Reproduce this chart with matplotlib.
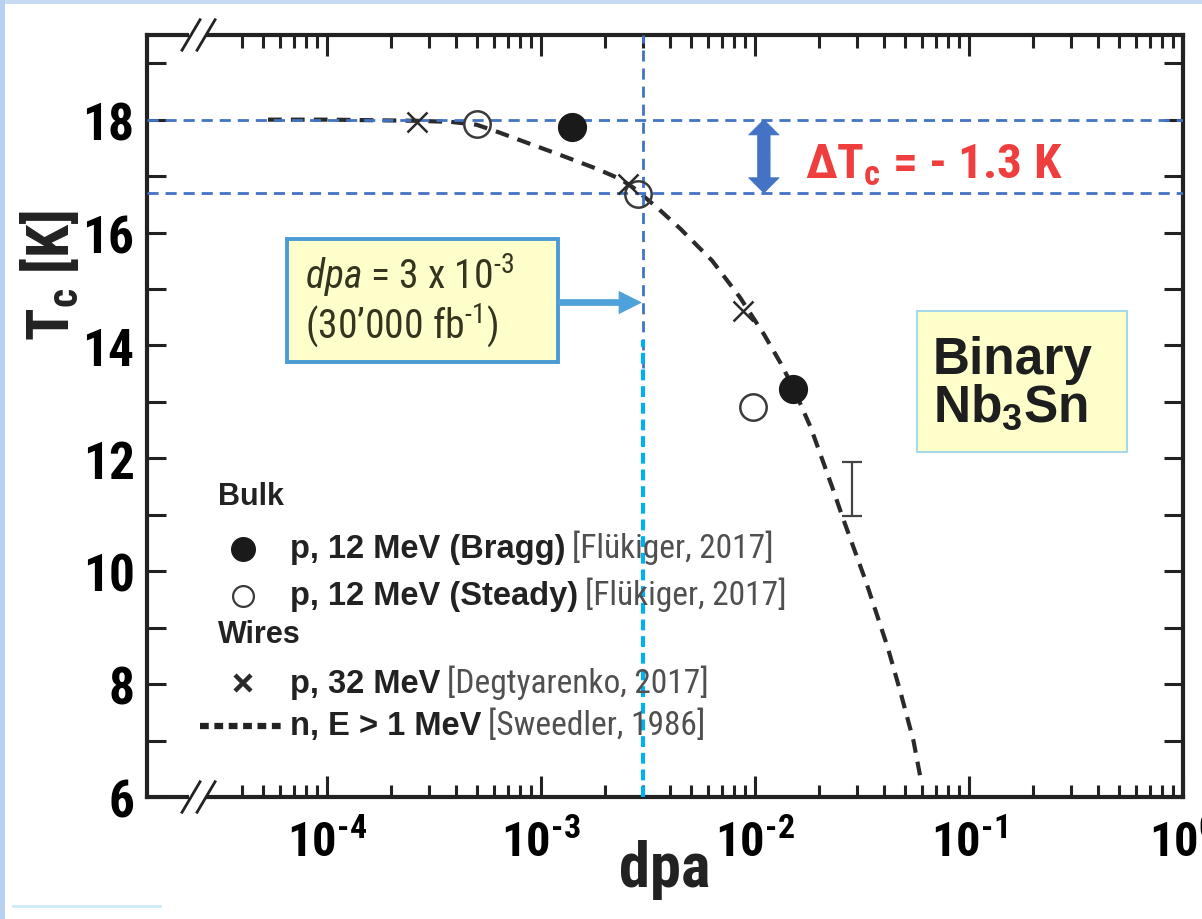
import matplotlib
matplotlib.use('Agg')
import matplotlib.pyplot as plt
from matplotlib.patches import Rectangle, FancyArrowPatch
from matplotlib.lines import Line2D
from matplotlib.ticker import FixedLocator, NullFormatter

# Tc of binary Nb3Sn against displacements per atom
bragg_dpa = [1.40e-3, 1.51e-2]
bragg_tc = [17.87, 13.23]
steady_dpa = [5.0e-4, 2.85e-3, 9.8e-3]
steady_tc = [17.93, 16.68, 12.91]
wire_dpa = [2.64e-4, 2.55e-3, 8.8e-3]
wire_tc = [17.96, 16.86, 14.61]
neutron_dpa = [5.3e-5, 1.0e-4, 2.6e-4, 3.8e-4, 5.0e-4, 6.3e-4, 8.9e-4, 1.26e-3,
               1.82e-3, 2.34e-3, 2.69e-3, 3.47e-3, 4.47e-3, 6.31e-3, 8.51e-3,
               1.10e-2, 1.32e-2, 1.51e-2, 1.82e-2, 2.29e-2, 2.57e-2, 3.31e-2,
               4.17e-2, 4.79e-2, 5.5e-2, 5.96e-2]
neutron_tc = [18.0, 18.0, 17.98, 17.96, 17.91, 17.78, 17.57, 17.36,
              17.13, 16.95, 16.80, 16.45, 16.07, 15.5, 14.85,
              14.2, 13.68, 13.25, 12.55, 11.5, 10.95, 9.8,
              8.65, 7.85, 7.0, 6.3]
err_dpa = 2.84e-2
err_lo, err_hi = 10.98, 11.93

tc_ref = 18.0
tc_irr = 16.7
dpa_hl = 3e-3          # 30'000 fb-1
delta_dpa = 1.1e-2     # where the delta Tc arrow sits
note_tc = 14.76        # height of the arrow from the dpa note

x_ticks = [1e-4, 1e-3, 1e-2, 1e-1, 1e0]
x_tick_labels = [r'$\mathsf{10^{‐4}}$', r'$\mathsf{10^{‐3}}$', r'$\mathsf{10^{‐2}}$',
                 r'$\mathsf{10^{‐1}}$', r'$\mathsf{10^{0}}$']
y_ticks = [6, 8, 10, 12, 14, 16, 18]
y_minor = [7, 9, 11, 13, 15, 17, 19]
x_lo, y_lo, y_hi = 10 ** -4.841, 6, 19.5

legend_rows = [
    ('p, 12 MeV (Bragg)', '[Flükiger, 2017]'),
    ('p, 12 MeV (Steady)', '[Flükiger, 2017]'),
    ('p, 32 MeV', '[Degtyarenko, 2017]'),
    ('n, E > 1 MeV', '[Sweedler, 1986]'),
]

sans = 'Liberation Sans'
narrow = ['Roboto Condensed', 'DejaVu Sans']
plt.rcParams['font.family'] = [sans, 'DejaVu Sans']
plt.rcParams['mathtext.fontset'] = 'custom'
plt.rcParams['mathtext.rm'] = 'Roboto Condensed'
plt.rcParams['mathtext.it'] = 'Roboto Condensed:italic'
plt.rcParams['mathtext.bf'] = sans + ':bold'
plt.rcParams['mathtext.sf'] = 'Roboto Condensed:bold'

blue = '#4472c4'
ink = '#222222'

fig = plt.figure(figsize=(12.02, 9.2), dpi=100)
# slide edges
fig.add_artist(Rectangle((0, 0.9946), 1, 0.0054, transform=fig.transFigure, color='#c6dbf3', lw=0))
fig.add_artist(Rectangle((0, 0), 0.0042, 1, transform=fig.transFigure, color='#b9cff0', lw=0))
fig.add_artist(Line2D([0.011, 0.133], [0.0141, 0.0141], transform=fig.transFigure,
                      color='#cdeaf8', lw=2))

ax = fig.add_axes([0.1223, 0.1326, 0.8619, 0.8283])
ax.set_xscale('log')
ax.set_xlim(x_lo, 1)
ax.set_ylim(y_lo, y_hi)
for s in ax.spines.values():
    s.set_linewidth(3)
    s.set_color(ink)

ax.xaxis.set_major_locator(FixedLocator(x_ticks))
minor = [m * 10.0 ** e for e in range(-5, 0) for m in range(2, 10) if m * 10.0 ** e >= 4e-5]
ax.xaxis.set_minor_locator(FixedLocator(minor))
ax.xaxis.set_minor_formatter(NullFormatter())
ax.set_xticklabels(x_tick_labels)
ax.tick_params(axis='x', which='both', direction='in', top=True, bottom=True,
               width=2.2, color=ink)
ax.tick_params(axis='x', which='major', length=15, pad=16, labelsize=35)
ax.tick_params(axis='x', which='minor', length=9)

ax.set_yticks(y_ticks)
ax.set_yticks(y_minor, minor=True)
ax.tick_params(axis='y', which='both', direction='in', left=True, right=True,
               length=14, width=2.2, color=ink, pad=9, labelsize=37)
for lab in ax.get_yticklabels():
    lab.set_family(narrow)
    lab.set_weight('bold')

fig.text(0.553, 0.036, 'dpa', ha='center', va='baseline', fontsize=45,
         family=narrow, weight='bold', color=ink)
fig.text(0.041, 0.70, r'T$_\mathsf{c}$ [K]', ha='center', va='center', rotation=90,
         fontsize=43, family=narrow, weight='bold', color=ink)

# axis breaks
for yb in (0, 1):
    ax.add_patch(Rectangle((0.041, yb - 0.006), 0.016, 0.012, transform=ax.transAxes,
                           color='white', lw=0, clip_on=False, zorder=10))
    for xc in (0.0425, 0.057):
        ax.add_line(Line2D([xc - 0.0087, xc + 0.0087], [yb - 0.02, yb + 0.02],
                           transform=ax.transAxes, color=ink, lw=2,
                           clip_on=False, zorder=11))

# reference lines
ax.axhline(tc_ref, color=blue, lw=2, dashes=(4, 2.5), zorder=3)
ax.axhline(tc_irr, color=blue, lw=2, dashes=(4, 2.5), zorder=3)
ax.plot([dpa_hl, dpa_hl], [13.6, y_hi], color=blue, lw=2, dashes=(4, 2.5), zorder=3)
ax.plot([dpa_hl, dpa_hl], [y_lo, 14.1], color='#00b0f0', lw=3, dashes=(2.6, 1.4), zorder=3)

# data
ax.plot(neutron_dpa, neutron_tc, color='#2a2a2a', lw=3, dashes=(3.3, 2.2), zorder=2)
ax.plot(bragg_dpa, bragg_tc, 'o', ms=20, color='#1a1a1a', ls='none', zorder=4)
ax.plot(steady_dpa, steady_tc, 'o', ms=19, mfc='none', mec='#3a3a3a', mew=1.8,
        ls='none', zorder=4)
ax.plot(wire_dpa, wire_tc, 'x', ms=14, mec='#2a2a2a', mew=1.8, ls='none', zorder=4)
ax.errorbar([err_dpa], [(err_lo + err_hi) / 2], yerr=[(err_hi - err_lo) / 2], fmt='none',
            ecolor='#444444', elinewidth=1.6, capsize=7, capthick=1.6, zorder=4)

# delta Tc arrow
mid = (tc_ref + tc_irr) / 2
for end in (tc_ref, tc_irr):
    ax.add_patch(FancyArrowPatch((delta_dpa, mid), (delta_dpa, end),
                                 arrowstyle='simple,head_length=0.55,head_width=1.1,tail_width=0.45',
                                 mutation_scale=20, fc=blue, ec=blue, lw=0.5,
                                 shrinkA=0, shrinkB=0, zorder=5))
ax.text(0.635, 0.8136, r'ΔT$_\mathsf{c}$ = - 1.3 K', transform=ax.transAxes,
        fontsize=35.5, family=narrow, weight='bold', color='#ef3e3e',
        va='baseline', zorder=5)

# dpa note
ax.add_patch(Rectangle((0.1351, 0.5709), 0.2616, 0.1614, transform=ax.transAxes,
                       fc='#ffffcc', ec='#4a9ad4', lw=2.8, zorder=5))
ax.text(0.1525, 0.668, r'$\mathit{dpa}$ = 3 x 10$^{‐3}$', transform=ax.transAxes,
        fontsize=28.5, family=narrow, color='#35351f', va='baseline', zorder=6)
ax.text(0.1525, 0.603, '(30’000 fb$^{‐1}$)', transform=ax.transAxes,
        fontsize=28.5, family=narrow, color='#35351f', va='baseline', zorder=6)
ax.add_patch(FancyArrowPatch((1.2e-3, note_tc), (dpa_hl * 0.98, note_tc),
                             arrowstyle='simple,head_length=0.8,head_width=0.8,tail_width=0.22',
                             mutation_scale=20, fc='#4ea2d9', ec='#4ea2d9', lw=0.5,
                             shrinkA=0, shrinkB=0, zorder=5))

# material box
ax.add_patch(Rectangle((0.7432, 0.4528), 0.2027, 0.185, transform=ax.transAxes,
                       fc='#ffffcc', ec='#a6d8ea', lw=1.5, zorder=5))
ax.text(0.7587, 0.5564, 'Binary', transform=ax.transAxes, fontsize=37, weight='bold',
        color='#1e1e1e', va='baseline', zorder=6)
ax.text(0.7587, 0.4934, r'Nb$_\mathbf{3}$Sn', transform=ax.transAxes, fontsize=37,
        weight='bold', color='#1e1e1e', va='baseline', zorder=6)

# legend
ax.text(0.0685, 0.395, 'Bulk', transform=ax.transAxes, fontsize=22, weight='bold',
        color=ink, va='center')
ax.text(0.0685, 0.2139, 'Wires', transform=ax.transAxes, fontsize=22, weight='bold',
        color=ink, va='center')
row_y = [0.3255, 0.2638, 0.1496, 0.0932]
ax.plot([0.0927], [row_y[0]], 'o', ms=17, color='#1a1a1a', transform=ax.transAxes)
ax.plot([0.0927], [row_y[1]], 'o', ms=15, mfc='none', mec='#3a3a3a', mew=1.6,
        transform=ax.transAxes)
ax.plot([0.0927], [row_y[2]], 'x', ms=11, mec='#2a2a2a', mew=3.2, transform=ax.transAxes)
ax.plot([0.0512, 0.1332], [row_y[3], row_y[3]], color=ink, lw=4.5, dashes=(1.4, 0.9),
        transform=ax.transAxes)
for (label, ref), y in zip(legend_rows, row_y):
    t = ax.text(0.138, y, label, transform=ax.transAxes, fontsize=23.5, weight='bold',
                color=ink, va='center')
    ax.annotate(ref, xy=(1, 0), xycoords=t, xytext=(5, 0), textcoords='offset points',
                ha='left', va='bottom', fontsize=24, family=narrow, color='#505050')

fig.savefig('out.png', dpi=100)
